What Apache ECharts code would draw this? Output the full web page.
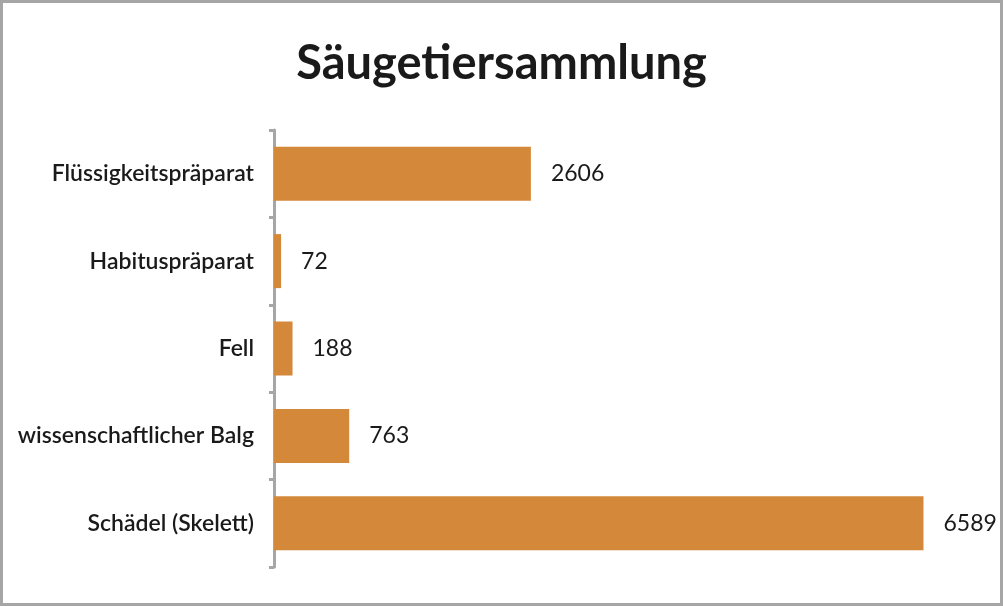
<!DOCTYPE html>
<html><head><meta charset="utf-8">
<script src="https://cdn.jsdelivr.net/npm/echarts@6/dist/echarts.min.js"></script>
<style>html,body{margin:0;padding:0;background:#fff}#c{width:1003px;height:606px;box-sizing:border-box;border:3px solid #a6a6a6}</style>
</head><body><div id="c"></div>
<script>
const title = 'Säugetiersammlung';
const categories = ['Flüssigkeitspräparat','Habituspräparat','Fell','wissenschaftlicher Balg','Schädel (Skelett)'];
const values = [2606, 72, 188, 763, 6589];
const chart = echarts.init(document.getElementById('c'));
chart.setOption({
  animation:false,
  title:{text:title,left:'center',top:32,textStyle:{fontFamily:'Lato',fontWeight:'bold',fontSize:47,color:'#1a1a1a'}},
  grid:{left:271,top:127,bottom:36,right:36},
  xAxis:{type:'value',min:0,max:7000,show:false},
  yAxis:{type:'category',data:categories,inverse:true,
    axisLine:{lineStyle:{color:'#a6a6a6',width:3}},
    axisTick:{show:true,length:5,lineStyle:{color:'#a6a6a6',width:3}},
    axisLabel:{margin:20,fontFamily:'Lato',fontWeight:600,fontSize:23,color:'#1a1a1a'}},
  series:[{type:'bar',data:values,barWidth:54,itemStyle:{color:'#D4883A'},
    label:{show:true,position:'right',distance:20,fontFamily:'Lato',fontSize:23,color:'#1a1a1a'}}]
});
</script></body></html>
